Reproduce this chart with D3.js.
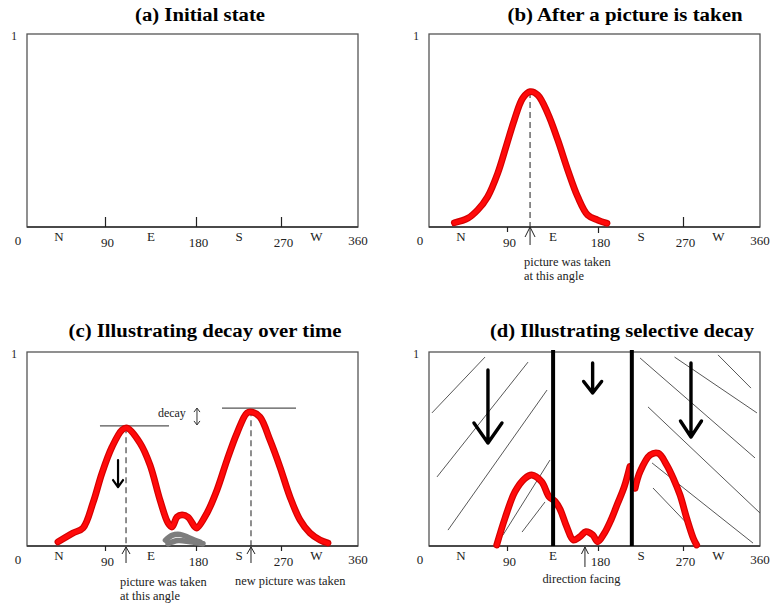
<!DOCTYPE html>
<html>
<head>
<meta charset="utf-8">
<script src="https://cdn.jsdelivr.net/npm/d3@7"></script>
<style>
  body { margin: 0; background: #fff; }
  svg { display: block; }
</style>
</head>
<body>
<svg id="root" width="782" height="605"></svg>
<script>
// values: angle in degrees, level 0..1
const tickAngles = [90, 180, 270];
const tickLabels = ["0", "90", "180", "270", "360"];
const tickLabelAngles = [0, 90, 180, 270, 360];
const compassLabels = ["N", "E", "S", "W"];
const compassAngles = [42, 135, 225, 311];
const titles = [
  "(a) Initial state",
  "(b) After a picture is taken",
  "(c) Illustrating decay over time",
  "(d) Illustrating selective decay",
];

// (b) one picture
const curveB = [
  [35.3, 0.022], [49.1, 0.045], [59.3, 0.088], [69.6, 0.157], [79.9, 0.278],
  [88.5, 0.416], [96.7, 0.554], [105, 0.667], [112.3, 0.701], [119.9, 0.684],
  [129.8, 0.589], [139.7, 0.451], [149.6, 0.295], [159.4, 0.157], [169.3, 0.062],
  [179.2, 0.036], [189, 0.019],
];
const pictureAngleB = 112.3;
const pictureLevelB = 0.70;

// (c) decay over time
const curveC = [
  [41.1, 0.021], [56.6, 0.067], [66.9, 0.093], [77.1, 0.222], [86.4, 0.376],
  [96.4, 0.51], [106.3, 0.598], [111.3, 0.608], [124.1, 0.531], [134, 0.418],
  [143.9, 0.237], [151.8, 0.119], [155.8, 0.098], [160.7, 0.149], [165.7, 0.16],
  [171.6, 0.149], [178.5, 0.098], [180.5, 0.093], [191.1, 0.17], [201.7, 0.289],
  [212.3, 0.443], [222.9, 0.582], [233.5, 0.686], [238.8, 0.69], [247.2, 0.665],
  [257.8, 0.546], [268.4, 0.407], [280, 0.253], [291.8, 0.134], [303.5, 0.067],
  [315.3, 0.031], [324.7, 0.015],
];
const pictureAnglesC = [110.3, 237.7];
const peakLevelsC = [0.612, 0.70];
const peakLineLevelsC = [0.619, 0.711];
const peakLineSpansC = [[84.3, 152.8], [207, 287.1]];
const oldTraceC = [
  [[149.3, 0.03], [155.8, 0.055], [163.7, 0.06], [171.6, 0.045], [178.5, 0.03], [183.7, 0.02]],
  [[151.8, 0.012], [161.7, 0.028], [173.6, 0.022], [186.9, 0.012]],
];
const decayLabelC = { angle: 141.8, level: 0.665 };
const decayArrowC = { angle: 180.5, from: 0.711, to: 0.624 };
const dropArrowC = { angle: 102.4, from: 0.443, to: 0.304 };

// (d) selective decay
const curveD1 = [
  [78.9, 0.005], [87.4, 0.143], [97.4, 0.28], [107.3, 0.349], [113.9, 0.366],
  [123.8, 0.331], [131, 0.255], [137, 0.23], [141.9, 0.19], [148.5, 0.1],
  [155.1, 0.031], [161.7, 0.048], [167.6, 0.074], [174.3, 0.057], [179.2, 0.022],
  [186.1, 0.065], [193.2, 0.134], [200.3, 0.22], [207.3, 0.306], [213.2, 0.41],
];
const curveD2 = [
  [218.7, 0.297], [224, 0.383], [234.6, 0.469], [243.4, 0.478], [252.2, 0.418],
  [259.2, 0.349], [266.3, 0.263], [273.8, 0.143], [281.5, 0.04], [285.5, 0.005],
];
const wallAnglesD = [135.1, 215.3];
const facingAngleD = 166.6;
const hatchD = [
  [12.3, 0.686, 66.9, 0.974], [17.5, 0.356, 110.3, 0.948], [28.8, 0.082, 129.1, 0.804],
  [85.4, 0.057, 132, 0.443], [104.4, 0.072, 127.1, 0.227],
  [260.5, 0.974, 356.4, 0.686], [310.6, 0.985, 349.4, 0.814], [224, 0.969, 354.1, 0.454],
  [232.4, 0.717, 360, 0.17], [236.7, 0.428, 351.8, 0.015], [237.7, 0.299, 281.5, 0.082],
];
const dropArrowsD = [
  { angle: 69.9, from: 0.907, to: 0.531 },
  { angle: 174.2, from: 0.943, to: 0.789 },
  { angle: 278.8, from: 0.943, to: 0.562 },
];

// layout of the four panels
const panels = [
  { box: [27, 34, 358, 227], titleX: 200, titleY: 21, titleW: 130, ticks: [-10, -10, -10] },
  { box: [429, 34, 760, 227], titleX: 625, titleY: 21, titleW: 235, ticks: [5, 6, -10] },
  { box: [27, 352, 358, 546], titleX: 205, titleY: 337, titleW: 273, ticks: [5, 5, 5] },
  { box: [429, 352, 760, 546], titleX: 622, titleY: 337, titleW: 264, ticks: [5, 5, 5] },
];

const serif = "'Liberation Serif', 'Times New Roman', serif";
const svg = d3.select("svg#root");

const upArrow = (g, x, yTip, yTail, hw, hh, w) => {
  g.append("path")
    .attr("d", `M${x},${yTail}L${x},${yTip}M${x - hw},${yTip + hh}L${x},${yTip}L${x + hw},${yTip + hh}`)
    .attr("fill", "none").attr("stroke", "#222").attr("stroke-width", w);
};
const downArrow = (g, x, yTail, yTip, hw, hh, w) => {
  g.append("path")
    .attr("d", `M${x},${yTail}L${x},${yTip}M${x - hw},${yTip - hh}L${x},${yTip}L${x + hw},${yTip - hh}`)
    .attr("fill", "none").attr("stroke", "#000").attr("stroke-width", w)
    .attr("stroke-linecap", "round").attr("stroke-linejoin", "round");
};

const redCurve = (g, pts, x, y) => {
  const line = d3.line().x((d) => x(d[0])).y((d) => y(d[1])).curve(d3.curveCatmullRom.alpha(0.5));
  g.append("path").attr("d", line(pts)).attr("fill", "none")
    .attr("stroke", "#d40000").attr("stroke-width", 6.8)
    .attr("stroke-linecap", "round").attr("stroke-linejoin", "round");
  g.append("path").attr("d", line(pts)).attr("fill", "none")
    .attr("stroke", "#ff0a0a").attr("stroke-width", 4.4)
    .attr("stroke-linecap", "round").attr("stroke-linejoin", "round");
};

const drawPanel = (p, i) => {
  const [l, t, r, b] = p.box;
  // hand drawn ticks are not evenly spaced, so a piecewise scale
  const x = d3.scaleLinear().domain([0, 90, 180, 270, 360])
    .range([l - 9, l + 78.5, l + 169.5, l + 254.5, r]);
  const y = d3.scaleLinear().domain([0, 1]).range([b, t]);
  const g = svg.append("g");

  g.append("text")
    .attr("x", p.titleX).attr("y", p.titleY)
    .attr("text-anchor", "middle")
    .attr("font-family", serif).attr("font-weight", "bold").attr("font-size", "18.5px")
    .attr("textLength", p.titleW).attr("lengthAdjust", "spacingAndGlyphs")
    .text(titles[i]);

  g.append("rect")
    .attr("x", l).attr("y", t).attr("width", r - l).attr("height", b - t)
    .attr("fill", "none").attr("stroke", "#555").attr("stroke-width", 1.3);
  g.append("line")
    .attr("x1", l).attr("x2", r).attr("y1", b).attr("y2", b)
    .attr("stroke", "#333").attr("stroke-width", 1.3);

  g.selectAll(".tick").data(tickAngles).join("line")
    .attr("x1", (d) => x(d)).attr("x2", (d) => x(d))
    .attr("y1", b).attr("y2", (d, j) => b + p.ticks[j])
    .attr("stroke", "#222").attr("stroke-width", 1.2);

  g.selectAll(".num").data(tickLabels).join("text")
    .attr("x", (d, j) => x(tickLabelAngles[j]) + (j === 0 || j === 4 ? 0 : 2))
    .attr("y", (d, j) => b + (j === 0 || j === 4 ? 18 : 20))
    .attr("text-anchor", "middle")
    .attr("font-family", serif).attr("font-size", "13px").attr("fill", "#222")
    .text((d) => d);

  g.selectAll(".dir").data(compassLabels).join("text")
    .attr("x", (d, j) => x(compassAngles[j])).attr("y", b + 14)
    .attr("text-anchor", "middle")
    .attr("font-family", serif).attr("font-size", "13px").attr("fill", "#222")
    .text((d) => d);

  g.append("text")
    .attr("x", l - 13).attr("y", y(1) + 6)
    .attr("text-anchor", "middle")
    .attr("font-family", serif).attr("font-size", "11.5px").attr("fill", "#222")
    .text("1");

  return { g, x, y, b };
};

const caption = (g, x0, y0, lines, anchor) => {
  lines.forEach((s, k) => {
    g.append("text")
      .attr("x", x0).attr("y", y0 + k * 13.5)
      .attr("text-anchor", anchor || "start")
      .attr("font-family", serif).attr("font-size", "12.4px").attr("fill", "#222")
      .text(s);
  });
};

const dashed = (g, x, y, angle, level) => {
  g.append("line")
    .attr("x1", x(angle)).attr("x2", x(angle))
    .attr("y1", y(level)).attr("y2", y(0))
    .attr("stroke", "#333").attr("stroke-width", 1.1).attr("stroke-dasharray", "6,4");
};

// (a)
drawPanel(panels[0], 0);

// (b)
{
  const { g, x, y, b } = drawPanel(panels[1], 1);
  dashed(g, x, y, pictureAngleB, pictureLevelB);
  redCurve(g, curveB, x, y);
  upArrow(g, x(pictureAngleB), b, b + 18, 5, 10, 1);
  caption(g, x(pictureAngleB) - 6, b + 39, ["picture was taken", "at this angle"]);
}

// (c)
{
  const { g, x, y, b } = drawPanel(panels[2], 2);
  peakLineSpansC.forEach((s, k) => {
    g.append("line")
      .attr("x1", x(s[0])).attr("x2", x(s[1]))
      .attr("y1", y(peakLineLevelsC[k])).attr("y2", y(peakLineLevelsC[k]))
      .attr("stroke", "#555").attr("stroke-width", 1.3);
  });
  pictureAnglesC.forEach((a, k) => dashed(g, x, y, a, peakLevelsC[k]));
  const grey = d3.line().x((d) => x(d[0])).y((d) => y(d[1])).curve(d3.curveCatmullRom);
  oldTraceC.forEach((tr) => {
    g.append("path").attr("d", grey(tr)).attr("fill", "none")
      .attr("stroke", "#7d7d7d").attr("stroke-width", 5.5)
      .attr("stroke-linecap", "round");
  });
  redCurve(g, curveC, x, y);
  downArrow(g, x(dropArrowC.angle), y(dropArrowC.from), y(dropArrowC.to), 5, 7, 2.2);

  g.append("text")
    .attr("x", x(decayLabelC.angle)).attr("y", y(decayLabelC.level))
    .attr("font-family", serif).attr("font-size", "12px").attr("fill", "#222")
    .text("decay");
  const dx = x(decayArrowC.angle), y1 = y(decayArrowC.from), y2 = y(decayArrowC.to);
  g.append("path")
    .attr("d", `M${dx},${y1}L${dx},${y2}M${dx - 3},${y1 + 4}L${dx},${y1}L${dx + 3},${y1 + 4}M${dx - 3},${y2 - 4}L${dx},${y2}L${dx + 3},${y2 - 4}`)
    .attr("fill", "none").attr("stroke", "#333").attr("stroke-width", 1);

  pictureAnglesC.forEach((a) => upArrow(g, x(a), b + 1, b + 17, 4, 7, 1));
  caption(g, x(pictureAnglesC[0]) - 6, b + 40, ["picture was taken", "at this angle"]);
  caption(g, x(pictureAnglesC[1]) - 16, b + 39, ["new picture was taken"]);
}

// (d)
{
  const { g, x, y, b } = drawPanel(panels[3], 3);
  g.selectAll(".hatch").data(hatchD).join("line")
    .attr("x1", (d) => x(d[0])).attr("y1", (d) => y(d[1]))
    .attr("x2", (d) => x(d[2])).attr("y2", (d) => y(d[3]))
    .attr("stroke", "#444").attr("stroke-width", 0.9);
  redCurve(g, curveD1, x, y);
  redCurve(g, curveD2, x, y);
  g.selectAll(".wall").data(wallAnglesD).join("line")
    .attr("x1", (d) => x(d)).attr("x2", (d) => x(d))
    .attr("y1", y(1) - 2).attr("y2", y(0))
    .attr("stroke", "#000").attr("stroke-width", 4);
  const heads = [[14, 20], [9, 11.5], [10.5, 16]];
  dropArrowsD.forEach((a, k) => {
    downArrow(g, x(a.angle), y(a.from), y(a.to), heads[k][0], heads[k][1], 3.4);
  });
  upArrow(g, x(facingAngleD), b + 1, b + 21, 3.5, 7, 1);
  caption(g, x(facingAngleD) - 3.5, b + 37, ["direction facing"], "middle");
}
</script>
</body>
</html>
